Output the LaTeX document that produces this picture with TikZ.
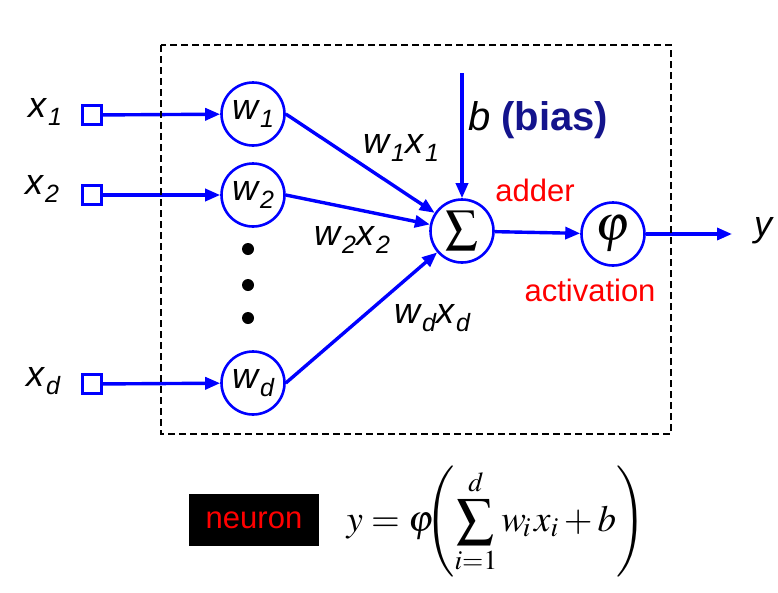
\documentclass[tikz,border=0pt]{standalone}
\usepackage{mathptmx}
\usepackage{fontspec}
\setmainfont{Liberation Sans}
\usetikzlibrary{arrows.meta}
\definecolor{biasblue}{RGB}{20,20,140}
\newcommand\lsub[2]{#1\hspace{2pt}\raisebox{-8pt}{\fontsize{25}{25}\selectfont #2}}
\begin{document}
\begin{tikzpicture}[x=1pt,y=-1pt,
  conn/.style={blue, line width=3.4pt},
  arr/.style={conn, -{Triangle[length=15pt,width=12pt]}},
  wnode/.style={circle, draw=blue, line width=2.6pt, minimum size=63pt, inner sep=0pt, fill=white},
  inbox/.style={draw=blue, line width=3.4pt, minimum size=19pt, inner sep=0pt},
  lbl/.style={font=\fontsize{36}{36}\selectfont\itshape, inner sep=0pt},
  redlbl/.style={text=red, font=\fontsize{31}{31}\selectfont, inner sep=0pt},
  dot/.style={circle, fill=black, minimum size=12pt, inner sep=0pt},
  frame/.style={draw=black, line width=2pt, dash pattern=on 7pt off 4pt}
]
\useasboundingbox (0,0) rectangle (778,592);

% input labels
\node[lbl] (lx1) at (45,112) {\lsub{x}{1}};
\node[lbl] (lx2) at (42,189) {\lsub{x}{2}};
\node[lbl] (lxd) at (43,381) {\lsub{x}{d}};

% input squares
\node[inbox] (s1) at (92,115) {};
\node[inbox] (s2) at (92,195) {};
\node[inbox] (sd) at (92,384) {};

% weight nodes
\node[wnode] (w1) at (253,114) {\lsub{\itshape\fontsize{36}{36}\selectfont w}{\itshape 1}};
\node[wnode] (w2) at (253,195) {\lsub{\itshape\fontsize{36}{36}\selectfont w}{\itshape 2}};
\node[wnode] (wd) at (253,383) {\lsub{\itshape\fontsize{36}{36}\selectfont w}{\itshape d}};

% dots
\node[dot] (d1) at (248,249) {};
\node[dot] (d2) at (248,285) {};
\node[dot] (d3) at (248,318) {};

% adder and activation
\node[wnode] (sig) at (462,231) {\fontsize{46}{46}\selectfont$\textstyle\sum$};
\node[wnode] (phi) at (613,234) {\fontsize{50}{50}\selectfont$\varphi$};

% connectors
\draw[arr] (s1) -- (w1);
\draw[arr] (s2) -- (w2);
\draw[arr] (sd) -- (wd);
\draw[arr] (w1.east) -- (sig);
\draw[arr] (w2.east) -- (sig);
\draw[arr] (wd.east) -- (sig);
\coordinate (btop) at (462,73);
\draw[arr] (btop) -- (sig.north);
\draw[arr] (sig) -- (phi);
\coordinate (yend) at (732,234);
\draw[arr] (phi.east) -- (yend);

% labels
\node[lbl] (ly) at (763,231) {y};
\node[lbl, anchor=west, font=\fontsize{40}{40}\selectfont\itshape] (lb) at (468,120) {b \textcolor{biasblue}{\upshape\bfseries (bias)}};
\node[redlbl] (ladd) at (535,190) {adder};
\node[redlbl] (lact) at (590,290) {activation};
\node[lbl] (e1) at (401,148) {\lsub{w}{1}\lsub{x}{1}};
\node[lbl] (e2) at (352,240) {\lsub{w}{2}\lsub{x}{2}};
\node[lbl] (ed) at (432,318) {\lsub{w}{d}\lsub{x}{d}};

% frame
\draw[frame] (161,45) rectangle (671,434);

% bottom
\node[fill=black, text=red, minimum width=130pt, minimum height=52pt, inner sep=0pt, font=\fontsize{31}{31}\selectfont] (neuron) at (254,520) {neuron};
\node[inner sep=0pt, font=\fontsize{37}{37}\selectfont] (formula) at (496,522) {$\displaystyle y=\varphi\mkern-6mu\left(\sum_{i=1}^{d} w_{\mkern-2mu i\,} x_{i} + b\right)$};
\end{tikzpicture}
\end{document}
